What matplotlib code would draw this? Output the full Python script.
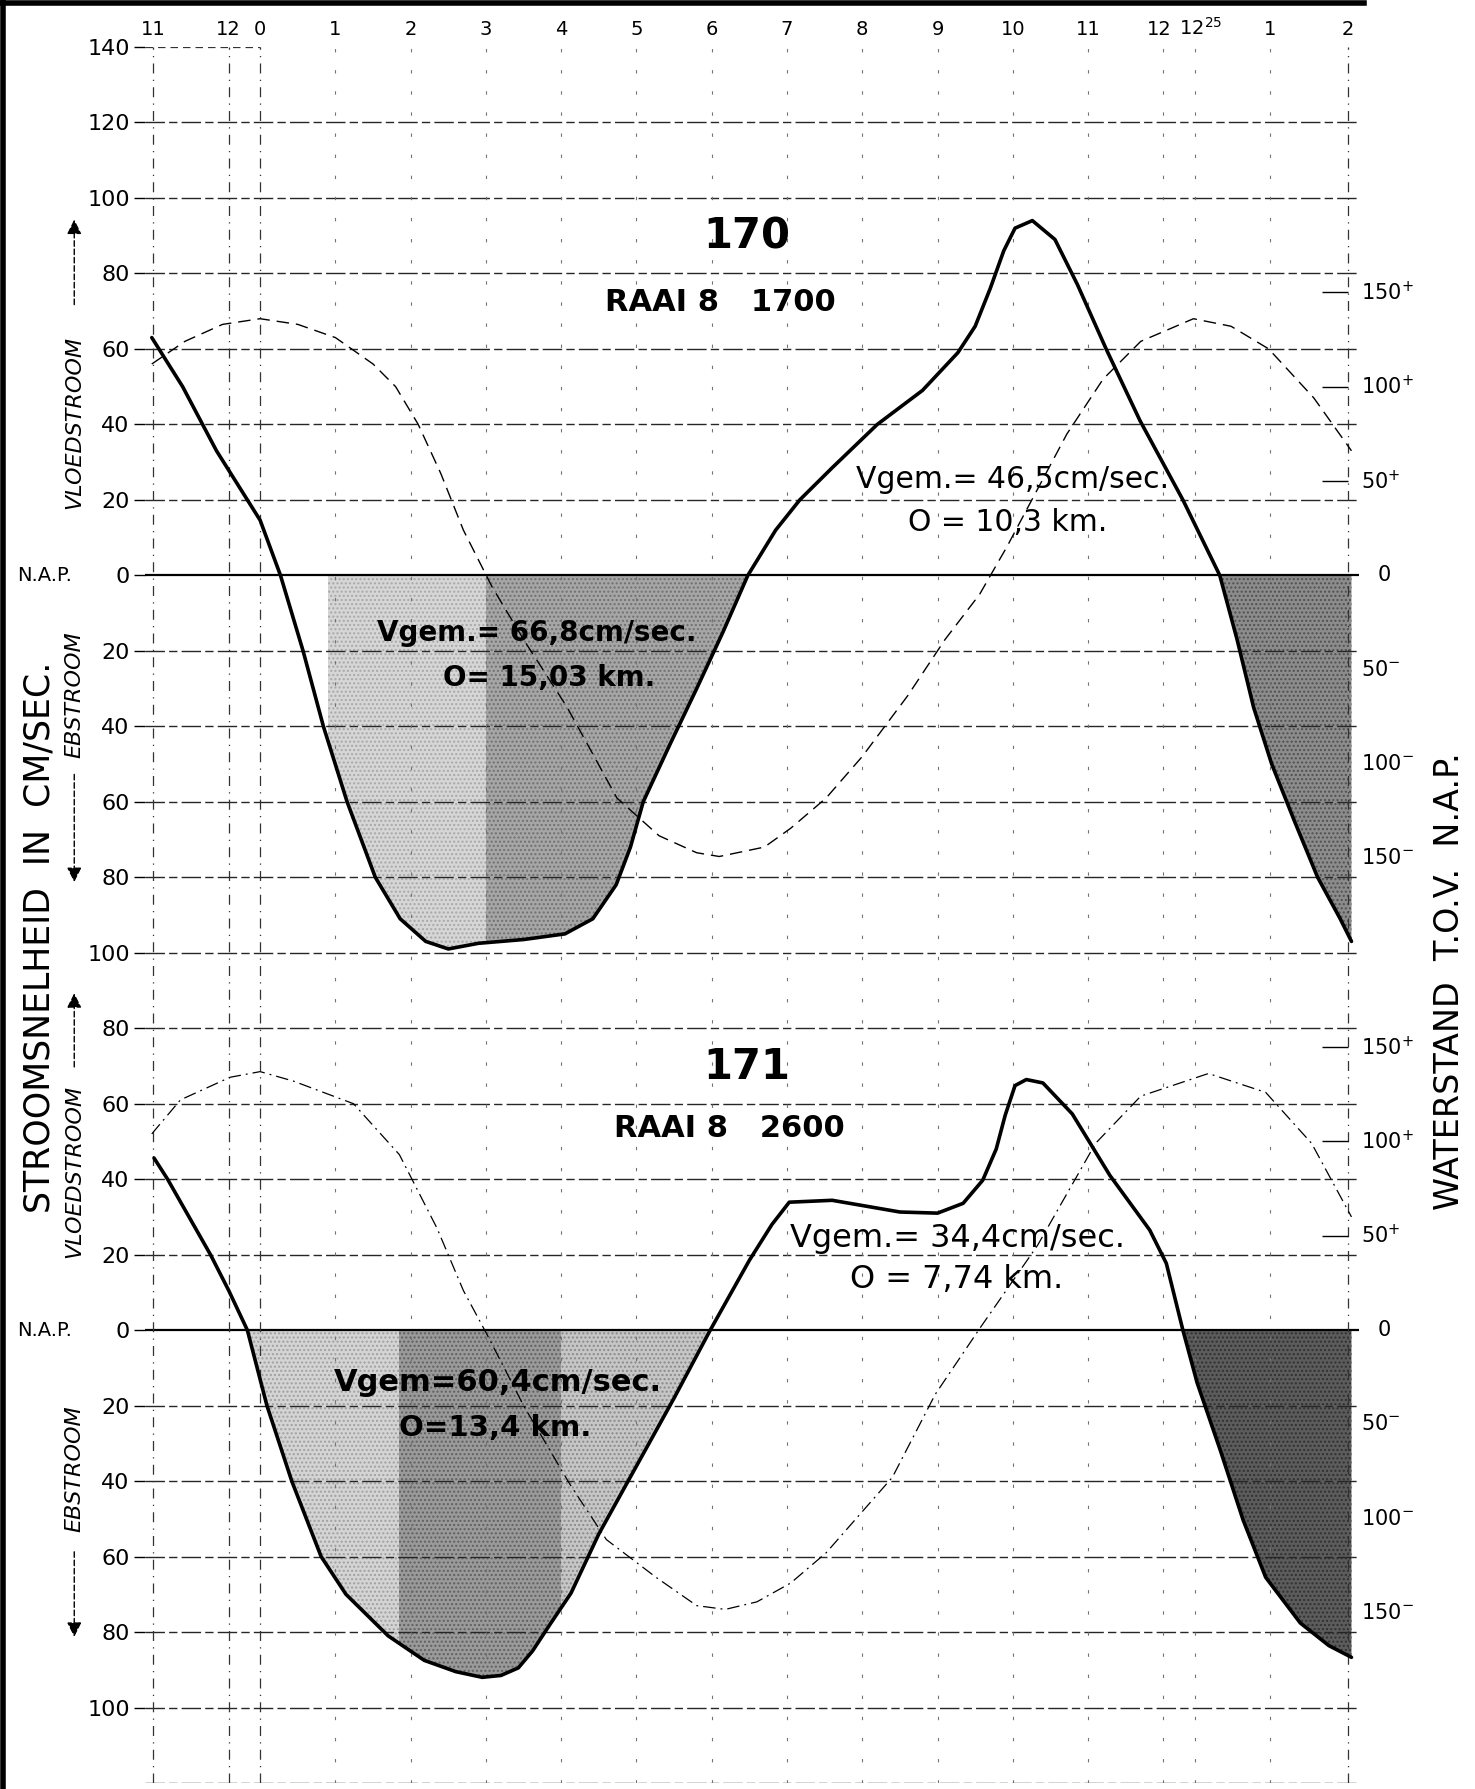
import matplotlib.pyplot as plt
from matplotlib.patches import Polygon
from matplotlib.lines import Line2D
from matplotlib.transforms import ScaledTranslation

# time axis: hours after high water (12h25 = next high water)
hour_pos = [-1.42, -0.42, 0, 1, 2, 3, 4, 5, 6, 7, 8, 9, 10, 11, 12, 12.42, 13.42, 14.45]
hour_lab = ['11', '12', '0', '1', '2', '3', '4', '5', '6', '7', '8', '9', '10', '11',
            '12', r'12$^{25}$', '1', '2']

# left scale in cm/sec; the lower diagram sits 200 units below the upper one
vel_pos = [140, 120, 100, 80, 60, 40, 20, 0, -20, -40, -60, -80, -100,
           -120, -140, -160, -180, -200, -220, -240, -260, -280, -300]
vel_lab = ['140', '120', '100', '80', '60', '40', '20', '0', '20', '40', '60', '80', '100',
           '80', '60', '40', '20', '0', '20', '40', '60', '80', '100']

# right scale: waterstand t.o.v. N.A.P. in cm
wl_cm = [150, 100, 50, 0, -50, -100, -150]
wl_lab = ['150$^{+}$', '100$^{+}$', '50$^{+}$', '0', '50$^{-}$', '100$^{-}$', '150$^{-}$']

# diagram 170, raai 8 - 1700: current speed (+ vloed, - eb)
t170 = [-1.44, -1.03, -0.58, -0.17, 0, 0.27, 0.57, 0.84, 1.155, 1.53, 1.86, 2.2, 2.5, 2.9,
        3.5, 4.05, 4.42, 4.73, 4.92, 5.09, 5.44, 5.8, 6.15, 6.48, 6.85, 7.17, 7.6, 8.2, 8.8,
        9.27, 9.5, 9.7, 9.88, 10.03, 10.26, 10.56, 10.86, 11.24, 11.69, 12.26, 12.75, 12.98,
        13.2, 13.44, 13.74, 14.05, 14.35, 14.5]
v170 = [63, 50, 33, 20, 14.6, 0, -20, -40, -60, -80, -91, -97, -99, -97.5,
        -96.5, -95, -91, -82, -72, -60, -45, -30, -15, 0, 12, 20, 28.5, 40, 49,
        59, 66, 76, 86, 92, 94, 89, 77, 60, 41, 20, 0, -17,
        -35, -50, -65, -80, -91, -97]
# diagram 170: water level (cm)
tw170 = [-1.44, -1.0, -0.5, 0, 0.5, 1.0, 1.5, 1.8, 2.1, 2.4, 2.7, 3.08, 3.5, 4.08, 4.74,
         5.3, 5.8, 6.1, 6.7, 7.05, 7.52, 8.0, 8.6, 9.1, 9.56, 9.92, 10.72, 11.2, 11.7,
         12.4, 12.9, 13.4, 14.0, 14.5]
w170 = [112, 124, 133, 136, 133, 126, 112, 100, 80, 54, 24, -6, -34, -70, -118,
        -138, -147, -149, -144, -134, -118, -96, -64, -34, -10, 15, 75, 104, 124,
        136, 132, 120, 94, 66]

# diagram 171, raai 8 - 2600
t171 = [-1.41, -1.23, -0.66, -0.42, -0.17, 0.09, 0.42, 0.81, 1.14, 1.7, 2.18, 2.6, 2.95,
        3.2, 3.43, 3.62, 3.85, 4.13, 4.5, 5.0, 5.5, 5.98, 6.5, 6.8, 7.03, 7.6, 8.5, 9.0,
        9.34, 9.6, 9.78, 9.9, 10.03, 10.18, 10.4, 10.79, 11.29, 11.82, 12.04, 12.26,
        12.45, 12.76, 13.06, 13.36, 13.82, 14.2, 14.5]
v171 = [45.6, 40, 20, 10.6, 0, -20, -40, -60, -70, -81, -87.5, -90.5, -92,
        -91.5, -89.5, -85, -78, -69.7, -54, -36, -18, 0, 18.5, 28, 33.9, 34.4, 31.3, 31,
        33.6, 39.7, 48, 57, 64.8, 66.4, 65.5, 57.3, 41, 26.5, 17.7, 0,
        -14, -32, -50.3, -65.5, -77.6, -83.6, -86.7]
tw171 = [-1.44, -1.06, -0.4, 0, 0.44, 1.24, 1.85, 2.35, 2.7, 3.01, 3.5, 4.12, 4.6, 5.26,
         5.8, 6.18, 6.6, 7.05, 7.52, 8.4, 8.97, 9.58, 10.33, 11.1, 11.7, 12.6, 13.36,
         13.97, 14.5]
w171 = [104, 122, 134, 137, 132, 120, 93, 54, 21, -2, -40, -82, -111, -131,
        -146, -148, -144, -134, -118, -78, -34, 2, 45, 99, 124, 136, 126,
        99, 60]

WL_SCALE = 0.5          # velocity units per cm water level
OFFSETS = [0, -200]     # vertical offset of the two diagrams

plt.rcParams['font.family'] = ['DejaVu Sans']

fig = plt.figure(figsize=(14.75, 17.89), dpi=100)
ax = fig.add_axes([145 / 1475, 6 / 1789, 1214 / 1475, 1736 / 1789])
ax.set_xlim(-1.53, 14.6)
ax.set_ylim(-320, 140)
for s in ax.spines.values():
    s.set_visible(False)

# scales
ax.set_yticks(vel_pos, vel_lab)
ax.tick_params(axis='y', length=8, width=1.0, pad=3, labelsize=16)
ax.xaxis.tick_top()
ax.set_xticks(hour_pos, hour_lab)
ax.tick_params(axis='x', length=0, pad=6, labelsize=14)
xl = ax.get_xticklabels()
xl[14].set_transform(xl[14].get_transform() + ScaledTranslation(-0.04, 0, fig.dpi_scale_trans))
xl[15].set_transform(xl[15].get_transform() + ScaledTranslation(0.06, 0, fig.dpi_scale_trans))

# grid
for y in vel_pos[1:] + [-320]:
    if y in OFFSETS:
        ax.axhline(y, color='black', lw=1.6, zorder=2)
    else:
        ax.axhline(y, color='0.15', lw=1.0, ls=(0, (14, 3, 6, 3)), zorder=2)
ax.hlines(140, -1.53, 0, color='0.2', lw=0.9, ls=(0, (6, 4)))
for x in hour_pos[:3]:
    ax.axvline(x, color='0.2', lw=0.9, ls=(0, (8, 5, 1, 5)), zorder=2)
for x in hour_pos[3:-1]:
    ax.axvline(x, color='0.45', lw=0.8, ls=(0, (3, 16)), zorder=2)
ax.axvline(hour_pos[-1], color='0.2', lw=0.9, ls=(0, (8, 5, 1, 5)), zorder=2)

# shaded ebb areas: (diagram, start, end, [(x0, x1, face, hatch colour)])
shading = [
    (0, 0.27, 6.5, [(0.9, 3.0, '#d6d6d6', '#a8a8a8'), (3.0, 6.6, '#a6a6a6', '#707070')]),
    (0, 12.75, 14.5, [(12.7, 14.6, '#8c8c8c', '#505050')]),
    (1, -0.17, 5.98, [(-0.2, 1.85, '#d4d4d4', '#a0a0a0'), (1.85, 4.0, '#9a9a9a', '#606060'),
                      (4.0, 6.1, '#c6c6c6', '#8a8a8a')]),
    (1, 12.26, 14.5, [(12.2, 14.6, '#5c5c5c', '#303030')]),
]
curves = [(t170, v170), (t171, v171)]
for k, h0, h1, bands in shading:
    t, v = curves[k]
    off = OFFSETS[k]
    pts = [(tt, vv + off) for tt, vv in zip(t, v) if h0 <= tt <= h1 and vv <= 0]
    pts = [(pts[0][0], off)] + pts + [(pts[-1][0], off)]
    poly = Polygon(pts, closed=True, fc='none', ec='none')
    ax.add_patch(poly)
    for x0, x1, fc, hc in bands:
        r = ax.axvspan(x0, x1, facecolor=fc, edgecolor=hc, hatch='....', lw=0, zorder=1)
        r.set_clip_path(poly)

# water level curves
ax.plot(tw170, [w * WL_SCALE + OFFSETS[0] for w in w170], color='black', lw=1.0,
        ls=(0, (9, 5)), zorder=3)
ax.plot(tw171, [w * WL_SCALE + OFFSETS[1] for w in w171], color='black', lw=0.9,
        ls=(0, (10, 4, 1.5, 4)), zorder=3)

# current speed curves
for (t, v), off in zip(curves, OFFSETS):
    ax.plot(t, [vv + off for vv in v], color='black', lw=2.6, zorder=4,
            solid_joinstyle='round', solid_capstyle='round')

# right scale with short ticks for the positive levels
for off in OFFSETS:
    for cm, lab in zip(wl_cm, wl_lab):
        y = cm * WL_SCALE + off
        if cm > 0:
            ax.hlines(y, 14.11, 14.45, color='black', lw=1.0, clip_on=False)
        ax.text(14.62 if cm != 0 else 14.85, y, lab, fontsize=15, ha='left', va='center',
                clip_on=False)

# titles and averages
ax.text(6.47, 89.7, '170', fontsize=30, fontweight='bold', ha='center', va='center')
ax.text(6.12, 72.4, 'RAAI 8   1700', fontsize=22, fontweight='bold', ha='center', va='center')
ax.text(6.47, -130.3, '171', fontsize=30, fontweight='bold', ha='center', va='center')
ax.text(6.24, -146.7, 'RAAI 8   2600', fontsize=22, fontweight='bold', ha='center', va='center')

ax.text(10.0, 25.3, 'Vgem.= 46,5cm/sec.', fontsize=21.5, ha='center', va='center', zorder=5)
ax.text(9.93, 14.1, 'O = 10,3 km.', fontsize=21.5, ha='center', va='center', zorder=5)
ax.text(3.68, -15.3, 'Vgem.= 66,8cm/sec.', fontsize=20, fontweight='bold', ha='center',
        va='center', zorder=5)
ax.text(3.84, -27.2, 'O= 15,03 km.', fontsize=20, fontweight='bold', ha='center',
        va='center', zorder=5)
ax.text(9.27, -175.6, 'Vgem.= 34,4cm/sec.', fontsize=23, ha='center', va='center', zorder=5)
ax.text(9.26, -186.7, 'O = 7,74 km.', fontsize=23, ha='center', va='center', zorder=5)
ax.text(3.16, -214.0, 'Vgem=60,4cm/sec.', fontsize=22, fontweight='bold', ha='center',
        va='center', zorder=5)
ax.text(3.12, -225.9, 'O=13,4 km.', fontsize=21, fontweight='bold', ha='center',
        va='center', zorder=5)

# axis titles
ax.text(-2.93, -95.8, 'STROOMSNELHEID  IN  CM/SEC.', fontsize=25, rotation=90,
        ha='center', va='center', clip_on=False)
ax.text(15.8, -107.5, 'WATERSTAND  T.O.V.  N.A.P.', fontsize=24, rotation=90,
        ha='center', va='center', clip_on=False)
for off in OFFSETS:
    ax.text(-2.86, off, 'N.A.P.', fontsize=14, ha='center', va='center', clip_on=False)

# vloed / eb direction labels
direction = [('VLOEDSTROOM', 40.5, 71, 95), ('EBSTROOM', -31.5, -52, -82),
             ('VLOEDSTROOM', -158, -131, -110), ('EBSTROOM', -236.7, -258, -282)]
for lab, yc, y0, y1 in direction:
    ax.text(-2.47, yc, lab, fontsize=16, style='italic', rotation=90, ha='center',
            va='center', clip_on=False)
    ax.annotate('', xy=(-2.47, y1), xytext=(-2.47, y0), annotation_clip=False,
                arrowprops=dict(arrowstyle='-|>', color='black', lw=1.0, ls=(0, (4, 2)),
                                mutation_scale=22))

# scanned sheet edges
fig.add_artist(Line2D([0.002, 0.002], [0, 1], transform=fig.transFigure, color='black', lw=4))
fig.add_artist(Line2D([0, 0.925], [0.9985, 0.9985], transform=fig.transFigure,
                      color='black', lw=4))

fig.savefig('out.png', dpi=100)
